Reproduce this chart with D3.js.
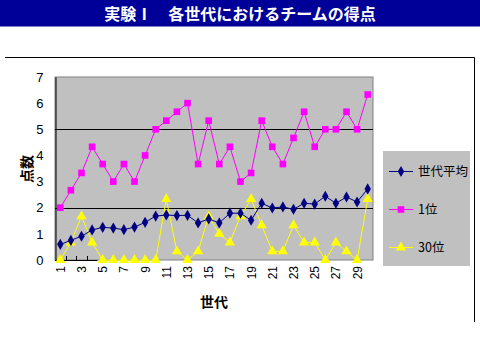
<!DOCTYPE html>
<html><head><meta charset="utf-8">
<script src="https://cdn.jsdelivr.net/npm/d3@7"></script>
<style>body{margin:0;background:#fff}svg{display:block}</style>
</head><body>
<script>
const title = "実験Ⅰ　各世代におけるチームの得点";
const generations = d3.range(1, 31);
const seriesNames = ["世代平均", "1位", "30位"];
const avgValues = [0.60,0.75,0.91,1.15,1.25,1.22,1.16,1.26,1.44,1.68,1.72,1.70,1.71,1.42,1.57,1.42,1.79,1.79,1.52,2.17,1.99,2.03,1.94,2.17,2.14,2.44,2.17,2.41,2.22,2.72];
const firstValues = [2,2.67,3.33,4.33,3.67,3,3.67,3,4,5,5.33,5.67,6,3.67,5.33,3.67,4.33,3,3.33,5.33,4.33,3.67,4.67,5.67,4.33,5,5,5.67,5,6.33];
const lastValues = [0,0.67,1.67,0.67,0,0,0,0,0,0,2.33,0.33,0,0.33,1.67,1,0.67,1.67,2.33,1.33,0.33,0.33,1.33,0.67,0.67,0,0.67,0.33,0,2.33];
const yTicks = [0,1,2,3,4,5,6,7];
const gridValues = [2,5];
const xTickLabels = generations.filter(d => d % 2 === 1);

(function(){
const W = 480, H = 360;
const svg = d3.select("body").append("svg").attr("width", W).attr("height", H);
const font = "'Noto Sans CJK JP', 'Liberation Sans', sans-serif";

// title bar
svg.append("rect").attr("x",0).attr("y",0).attr("width",W).attr("height",26.5).attr("fill","#000099");
svg.append("text").attr("x",240).attr("y",19.5).attr("text-anchor","middle")
  .attr("fill","#fff").attr("font-family",font).attr("font-weight","bold").attr("font-size",16).text(title);

// chart area frame (top & right)
svg.append("path").attr("d","M5,57.5H474.5V322").attr("fill","none").attr("stroke","#000").attr("stroke-width",1);

const pL = 55, pR = 373, pT = 77, pB = 260;
const x = d3.scaleBand().domain(generations).range([pL, pR]);
const y = d3.scaleLinear().domain([0,7]).range([pB, pT]);
const cx = d => x(d) + x.bandwidth()/2;

// plot area
svg.append("rect").attr("x",pL).attr("y",pT).attr("width",pR-pL).attr("height",pB-pT)
  .attr("fill","#c0c0c0").attr("stroke","#808080").attr("stroke-width",1);

// gridlines
svg.selectAll(".grid").data(gridValues).enter().append("line")
  .attr("x1",pL).attr("x2",pR).attr("y1",d=>Math.round(y(d))+0.5).attr("y2",d=>Math.round(y(d))+0.5)
  .attr("stroke","#000").attr("stroke-width",1);

// y axis
const yAxis = svg.append("g").attr("transform",`translate(${pL+0.5},0)`)
  .call(d3.axisLeft(y).tickValues(yTicks).tickSize(0).tickPadding(12).tickFormat(d3.format("d")));
yAxis.select(".domain").attr("stroke","#000");
yAxis.selectAll("text").attr("font-family","'Liberation Sans', sans-serif").attr("font-size",13).attr("fill","#000");

// x axis
const xAxis = svg.append("g").attr("transform",`translate(0,${pB+0.5})`)
  .call(d3.axisBottom(x).tickValues(xTickLabels).tickSize(0).tickPadding(0));
xAxis.select(".domain").remove();
xAxis.selectAll("text").attr("font-family","'Liberation Sans', sans-serif").attr("font-size",12).attr("fill","#000")
  .attr("text-anchor","end").attr("dy",null)
  .attr("transform","translate(4.5,5.5) rotate(-90)");
// partial black axis segment with ticks
svg.append("line").attr("x1",pL).attr("x2",x(5)).attr("y1",pB+0.5).attr("y2",pB+0.5).attr("stroke","#000");
svg.selectAll(".xt").data([2,3,4]).enter().append("line")
  .attr("x1",d=>Math.round(x(d))+0.5).attr("x2",d=>Math.round(x(d))+0.5)
  .attr("y1",pB-4).attr("y2",pB).attr("stroke","#000");

// axis titles
svg.append("text").attr("transform","translate(32,169) rotate(-90)").attr("text-anchor","middle")
  .attr("font-family",font).attr("font-weight","bold").attr("font-size",14).text("点数");
svg.append("text").attr("x",214).attr("y",307).attr("text-anchor","middle")
  .attr("font-family",font).attr("font-weight","bold").attr("font-size",14).text("世代");

const series = [
  {name: seriesNames[0], values: avgValues, color: "#000080", marker: "diamond"},
  {name: seriesNames[1], values: firstValues, color: "#ff00ff", marker: "square"},
  {name: seriesNames[2], values: lastValues, color: "#ffff00", marker: "triangle"}
];
const sym = {
  diamond: d3.symbol().type(d3.symbolDiamond).size(36),
  square: d3.symbol().type(d3.symbolSquare).size(44),
  triangle: d3.symbol().type(d3.symbolTriangle).size(46)
};
const line = d3.line().x((d,i)=>cx(generations[i])).y(d=>y(d));

const draw = [series[2], series[1], series[0]];
draw.forEach(s => {
  svg.append("path").datum(s.values).attr("d",line).attr("fill","none").attr("stroke",s.color).attr("stroke-width",1);
  svg.selectAll(null).data(s.values).enter().append("path")
    .attr("d", sym[s.marker]).attr("fill", s.color)
    .attr("transform",(d,i)=>`translate(${cx(generations[i])},${y(d)})`);
});

// legend
svg.append("rect").attr("x",383).attr("y",151).attr("width",87).attr("height",115).attr("fill","#c0c0c0");
const legY = [171, 209, 247];
series.forEach((s,i) => {
  const g = svg.append("g").attr("transform",`translate(0,${legY[i]})`);
  g.append("line").attr("x1",389).attr("x2",413).attr("y1",0.5).attr("y2",0.5).attr("stroke",s.color);
  g.append("path").attr("d",sym[s.marker]).attr("fill",s.color).attr("transform","translate(401,0.5)");
  g.append("text").attr("x",418).attr("y",5).attr("font-family",font).attr("font-size",12.5).attr("fill","#000").text(s.name);
});
})();
</script>
</body></html>
